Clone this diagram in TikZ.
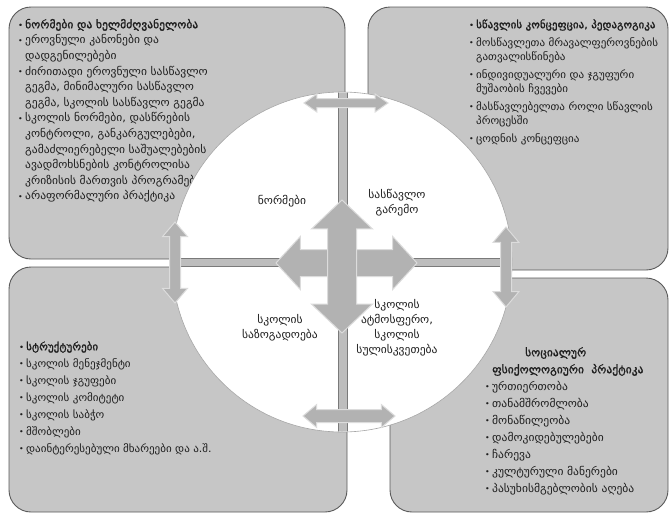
\documentclass[tikz,border=0pt]{standalone}
\usepackage{fontspec}
\setmainfont[FakeStretch=1.05]{DejaVu Sans}
\newfontfamily\hfont[FakeStretch=1.05,FakeBold=1.3]{DejaVu Sans}
\usetikzlibrary{shapes.arrows}
\definecolor{boxfill}{HTML}{C6C6C6}
\definecolor{boxedge}{HTML}{5A5A5A}
\definecolor{arrfill}{HTML}{B2B2B2}
\definecolor{arredge}{HTML}{DCDCDC}
\definecolor{barfill}{HTML}{BDBDBD}
\definecolor{baredge}{HTML}{7A7A7A}
\definecolor{txt}{HTML}{1E1E1E}
\newcommand\bul{\makebox[7pt][l]{\raisebox{0.6pt}{\fontsize{7.5}{8}\selectfont•}}}
\newcommand\ind{\hspace*{7pt}}
\tikzset{
  qbox/.style={fill=boxfill, draw=boxedge, line width=0.9pt, rounded corners=22pt},
  btext/.style={anchor=north west, inner sep=0pt, align=left, text=txt},
  clabel/.style={align=center, inner sep=0pt, text=txt, font=\fontsize{11}{15}\selectfont},
  dbl/.style={double arrow, fill=arrfill, draw=arredge, line width=1pt, inner sep=0pt, minimum width=0pt},
  crossbar/.style={fill=barfill, draw=baredge, line width=0.6pt},
}
\begin{document}
\begin{tikzpicture}[x=1pt,y=-1pt]
\useasboundingbox (0,0) rectangle (670,515);
% quadrant boxes
\path[qbox] (9,7) rectangle (345,259);
\path[qbox] (368,7) rectangle (668,270);
\path[qbox] (9,267) rectangle (347,512);
\path[qbox] (390,278) rectangle (668,512);
% box texts
\node[btext, font=\fontsize{11}{15.6}\selectfont] (tltext) at (18,17.1) {%
\strut{\hfont\bul ნორმები და ხელმძღვანელობა}\\
\bul ეროვნული კანონები და\\
\ind დადგენილებები\\
\bul ძირითადი ეროვნული სასწავლო\\
\ind გეგმა, მინიმალური სასწავლო\\
\ind გეგმა, სკოლის სასწავლო გეგმა\\
\bul სკოლის ნორმები, დასწრების\\
\ind კონტროლი, განკარგულებები,\\
\ind გამაძლიერებელი საშუალებების\\
\ind ავადმოხსნების კონტროლისა\\
\ind კრიზისის მართვის პროგრამები\\
\bul არაფორმალური პრაქტიკა};
\node[btext, font=\fontsize{10.5}{14}\selectfont] (trtext) at (469,18.2) {%
\strut{\hfont\bul სწავლის კონცეფცია, პედაგოგიკა}\\[4pt]
\bul მოსწავლეთა მრავალფეროვნების\\
\ind გათვალისწინება\\[4pt]
\bul ინდივიდუალური და ჯგუფური\\
\ind მუშაობის ჩვევები\\[4pt]
\bul მასწავლებელთა როლი სწავლის\\
\ind პროცესში\\[4pt]
\bul ცოდნის კონცეფცია};
\node[btext, font=\fontsize{10.5}{17}\selectfont] (bltext) at (19,338.1) {%
\strut{\hfont\bul სტრუქტურები}\\
\bul სკოლის მენეჯმენტი\\
\bul სკოლის ჯგუფები\\
\bul სკოლის კომიტეტი\\
\bul სკოლის საბჭო\\
\bul მშობლები\\
\bul დაინტერესებული მხარეები და ა.შ.};
\node[btext, font=\fontsize{11}{17}\selectfont] (brtext) at (485,344.1) {%
\strut\hspace*{40pt}{\hfont სოციალურ}\\
\hspace*{7pt}{\hfont ფსიქოლოგიური\ \ პრაქტიკა}\\
\bul ურთიერთობა\\
\bul თანამშრომლობა\\
\bul მონაწილეობა\\
\bul დამოკიდებულებები\\
\bul ჩარევა\\
\bul კულტურული მანერები\\
\bul პასუხისმგებლობის აღება};
% central circle
\node[circle, minimum size=340pt, inner sep=0pt, fill=white, draw=gray!70, line width=0.6pt] (hub) at (342,262) {};
\begin{scope}
  \clip (342,262) circle (169.5pt);
  \path[crossbar] (338,80) rectangle (347,445);
  \path[crossbar] (160,258) rectangle (525,266);
\end{scope}
% central labels
\node[clabel] (norms) at (282,201) {\strut ნორმები\strut};
\node[clabel] (env) at (397,203) {\strut სასწავლო\\გარემო\strut};
\node[clabel] (comm) at (280,328) {\strut სკოლის\\საზოგადოება\strut};
\node[clabel] (atmo) at (397,328) {\strut სკოლის\\ატმოსფერო,\\სკოლის\\სულისკვეთება\strut};
% arrows
\node[dbl, minimum height=141pt, inner ysep=13pt, double arrow head extend=13pt, double arrow tip angle=95] (harrow) at (346.5,263) {};
\node[dbl, rotate=90, minimum height=133pt, inner ysep=14pt, double arrow head extend=16pt, double arrow tip angle=93] (varrow) at (342,266.5) {};
\node[dbl, minimum height=84pt, inner ysep=4pt, double arrow head extend=4.5pt, double arrow tip angle=70] (toparrow) at (346,103) {};
\node[dbl, minimum height=92pt, inner ysep=6pt, double arrow head extend=5pt, double arrow tip angle=80] (botarrow) at (349,416) {};
\node[dbl, rotate=90, minimum height=81pt, inner ysep=5pt, double arrow head extend=7pt, double arrow tip angle=81] (leftarrow) at (175,262.5) {};
\node[dbl, rotate=90, minimum height=80pt, inner ysep=5pt, double arrow head extend=7.5pt, double arrow tip angle=80] (rightarrow) at (506,267) {};
\end{tikzpicture}
\end{document}
